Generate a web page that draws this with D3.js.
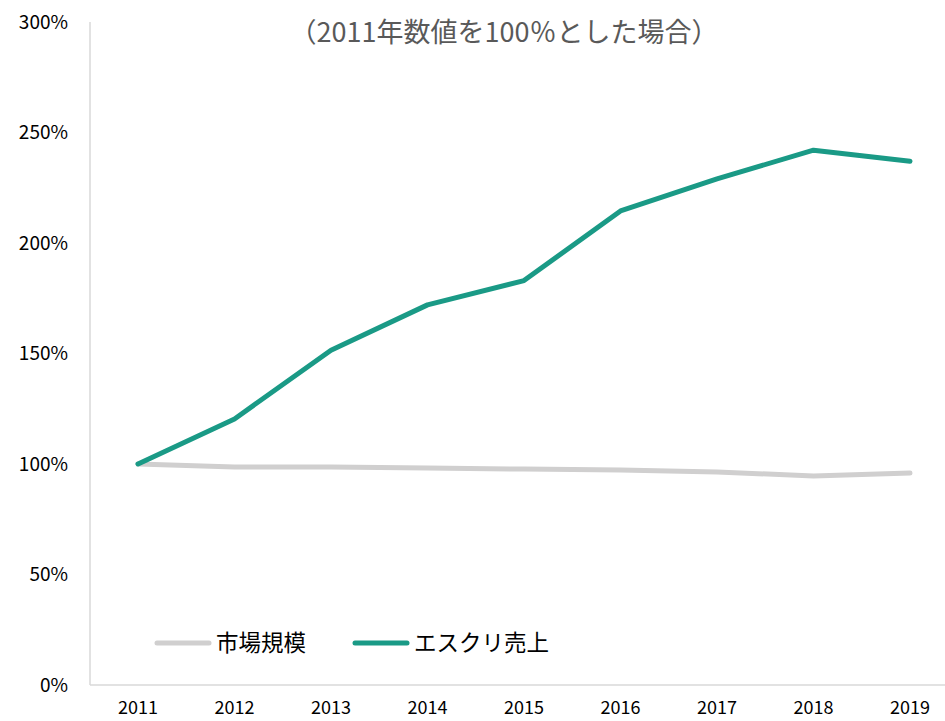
<!DOCTYPE html>
<html>
<head>
<meta charset="utf-8">
<script src="https://cdn.jsdelivr.net/npm/d3@7"></script>
<style>
	body { margin: 0; background: #fff; }
	text { font-family: "Noto Sans CJK JP", "Noto Sans", sans-serif; }
</style>
</head>
<body>
<div id="container"></div>
<script>
"use strict";

// data
const years = ["2011", "2012", "2013", "2014", "2015", "2016", "2017", "2018", "2019"];
const marketSize = [100, 98.6, 98.6, 98.2, 97.7, 97.3, 96.4, 94.6, 95.9];
const escriSales = [100, 120.4, 151.5, 172, 183, 214.5, 229, 242, 237];
const yTicks = [0, 50, 100, 150, 200, 250, 300];
const seriesNames = ["市場規模", "エスクリ売上"];
const titleText = "（2011年数値を100％とした場合）";

const W = 945, H = 721;
const colors = ["#d0cfcf", "#1a9a86"];

const svg = d3.select("#container")
	.append("svg")
	.attr("width", W)
	.attr("height", H);

// scales
const x = d3.scalePoint().domain(years).range([138, 910]);
const y = d3.scaleLinear().domain([0, 300]).range([685, 22]);

// axis lines
svg.append("line")
	.attr("x1", 90).attr("x2", 90)
	.attr("y1", 22).attr("y2", 685)
	.attr("stroke", "#d9d9d9").attr("stroke-width", 1.5);
svg.append("line")
	.attr("x1", 90).attr("x2", W)
	.attr("y1", 685).attr("y2", 685)
	.attr("stroke", "#d9d9d9").attr("stroke-width", 1.5);

// y tick labels
svg.append("g")
	.selectAll("text")
	.data(yTicks)
	.enter()
	.append("text")
	.attr("x", 68)
	.attr("y", (d) => y(d))
	.attr("dy", "0.35em")
	.attr("text-anchor", "end")
	.attr("font-size", 19)
	.attr("fill", "#000")
	.text((d) => d + "%");

// x tick labels
svg.append("g")
	.selectAll("text")
	.data(years)
	.enter()
	.append("text")
	.attr("x", (d) => x(d))
	.attr("y", 708)
	.attr("dy", "0.35em")
	.attr("text-anchor", "middle")
	.attr("font-size", 18)
	.attr("fill", "#000")
	.text((d) => d);

// title
svg.append("text")
	.attr("x", 504)
	.attr("y", 33)
	.attr("dy", "0.35em")
	.attr("text-anchor", "middle")
	.attr("font-size", 27)
	.attr("fill", "#595959")
	.text(titleText);

// lines
const line = d3.line()
	.x((d, i) => x(years[i]))
	.y((d) => y(d));

[marketSize, escriSales].forEach((s, i) => {
	svg.append("path")
		.datum(s)
		.attr("d", line)
		.attr("fill", "none")
		.attr("stroke", colors[i])
		.attr("stroke-width", 5)
		.attr("stroke-linejoin", "round")
		.attr("stroke-linecap", "round");
});

// legend
const legendX = [157, 355];
seriesNames.forEach((name, i) => {
	const g = svg.append("g").attr("transform", `translate(${legendX[i]},643)`);
	g.append("line")
		.attr("x1", 0).attr("x2", 52)
		.attr("stroke", colors[i])
		.attr("stroke-width", 5)
		.attr("stroke-linecap", "round");
	g.append("text")
		.attr("x", 59)
		.attr("dy", "0.35em")
		.attr("font-size", 22.5)
		.attr("fill", "#000")
		.text(name);
});
</script>
</body>
</html>
